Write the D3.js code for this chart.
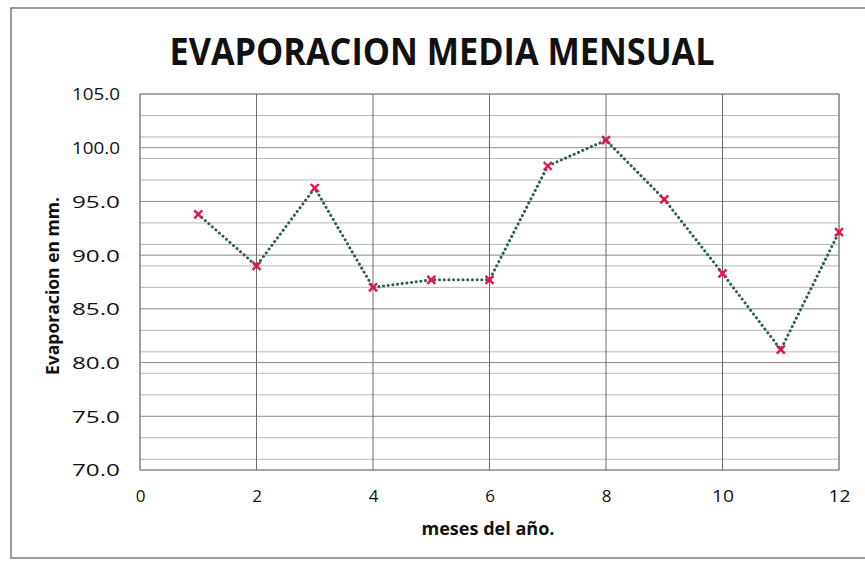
<!DOCTYPE html>
<html><head><meta charset="utf-8">
<script src="https://cdn.jsdelivr.net/npm/d3@7"></script>
<style>body{margin:0;background:#fff}svg{display:block}</style>
</head><body>
<svg id="c" width="865" height="561"></svg>
<script>
const months = [1,2,3,4,5,6,7,8,9,10,11,12];
const evaporation = [93.8,89.0,96.25,87.0,87.7,87.7,98.3,100.7,95.2,88.3,81.2,92.15];
const xTicks = [0,2,4,6,8,10,12];
const yTicks = [70,75,80,85,90,95,100,105];
const yMinor = [71,73,77,79,81,83,87,89,91,93,97,99,101,103];
const titleText = "EVAPORACION  MEDIA MENSUAL";
const xTitle = "meses del año.";
const yTitle = "Evaporacion en mm.";

const svg = d3.select("#c");
const W=865,H=561;
const m={l:140,r:26,t:94,b:91};
const x=d3.scaleLinear().domain([0,12]).range([m.l,W-m.r]);
const y=d3.scaleLinear().domain([70,105]).range([H-m.b,m.t]);
const font="'Open Sans', sans-serif";

svg.append("rect").attr("x",11).attr("y",8).attr("width",W+10).attr("height",550)
  .attr("fill","#fff").attr("stroke","#7a7a7a").attr("stroke-width",1.5);

svg.append("text").attr("x",442).attr("y",65).attr("text-anchor","middle")
  .attr("font-family",font).attr("font-weight","bold").attr("font-size",37)
  .attr("textLength",545).attr("lengthAdjust","spacingAndGlyphs").attr("fill","#111")
  .text(titleText);

const g=svg.append("g");
g.selectAll(".mn").data(yMinor).join("line")
  .attr("x1",x(0)).attr("x2",x(12)).attr("y1",d=>y(d)).attr("y2",d=>y(d))
  .attr("stroke","#b8b8b8").attr("stroke-width",1);
g.selectAll(".mj").data(yTicks).join("line")
  .attr("x1",x(0)).attr("x2",x(12)).attr("y1",d=>y(d)).attr("y2",d=>y(d))
  .attr("stroke","#8a8a8a").attr("stroke-width",1);
g.selectAll(".vx").data(xTicks).join("line")
  .attr("x1",d=>x(d)).attr("x2",d=>x(d)).attr("y1",y(70)).attr("y2",y(105))
  .attr("stroke","#6a6a6a").attr("stroke-width",1);
g.append("rect").attr("x",x(0)).attr("y",y(105)).attr("width",x(12)-x(0)).attr("height",y(70)-y(105))
  .attr("fill","none").attr("stroke","#8a8a8a").attr("stroke-width",1);

const yAxis=d3.axisLeft(y).tickValues(yTicks).tickFormat(d3.format(".1f")).tickSize(0).tickPadding(20);
const ya=svg.append("g").attr("transform",`translate(${x(0)},0)`).call(yAxis);
ya.select(".domain").remove();
ya.selectAll("text").attr("font-family",font).attr("font-size",17).attr("fill","#111")
  .attr("textLength",48).attr("lengthAdjust","spacingAndGlyphs").attr("dy","0.35em");

const xAxis=d3.axisBottom(x).tickValues(xTicks).tickFormat(d3.format("d")).tickSize(0).tickPadding(20);
const xa=svg.append("g").attr("transform",`translate(0,${y(70)})`).call(xAxis);
xa.select(".domain").remove();
xa.selectAll("text").attr("font-family",font).attr("font-size",17).attr("fill","#111")
  .attr("dy","0.71em").attr("transform","scale(1,1)")
  .each(function(d){ if(String(d).length>1) d3.select(this).attr("textLength",22).attr("lengthAdjust","spacingAndGlyphs"); });

svg.append("text").attr("x",488).attr("y",535).attr("text-anchor","middle")
  .attr("font-family",font).attr("font-weight","bold").attr("font-size",17).attr("fill","#111")
  .attr("textLength",133).attr("lengthAdjust","spacingAndGlyphs").text(xTitle);
svg.append("text").attr("transform",`translate(59,286) rotate(-90)`).attr("text-anchor","middle")
  .attr("font-family",font).attr("font-weight","bold").attr("font-size",17).attr("fill","#111")
  .attr("textLength",178).attr("lengthAdjust","spacingAndGlyphs").text(yTitle);

const pts=months.map((mm,i)=>[mm,evaporation[i]]);
svg.append("path").datum(pts)
  .attr("d",d3.line().x(d=>x(d[0])).y(d=>y(d[1])))
  .attr("fill","none").attr("stroke","#2f5f55").attr("stroke-width",3)
  .attr("stroke-dasharray","0.1 4.6").attr("stroke-linecap","round");

const s=4;
const mk=svg.append("g").selectAll("g").data(pts).join("g")
  .attr("transform",d=>`translate(${x(d[0])},${y(d[1])})`);
mk.append("path").attr("d",`M${-s},${-s}L${s},${s}M${-s},${s}L${s},${-s}`)
  .attr("stroke","#e0184a").attr("stroke-width",2.4);
</script>
</body></html>
